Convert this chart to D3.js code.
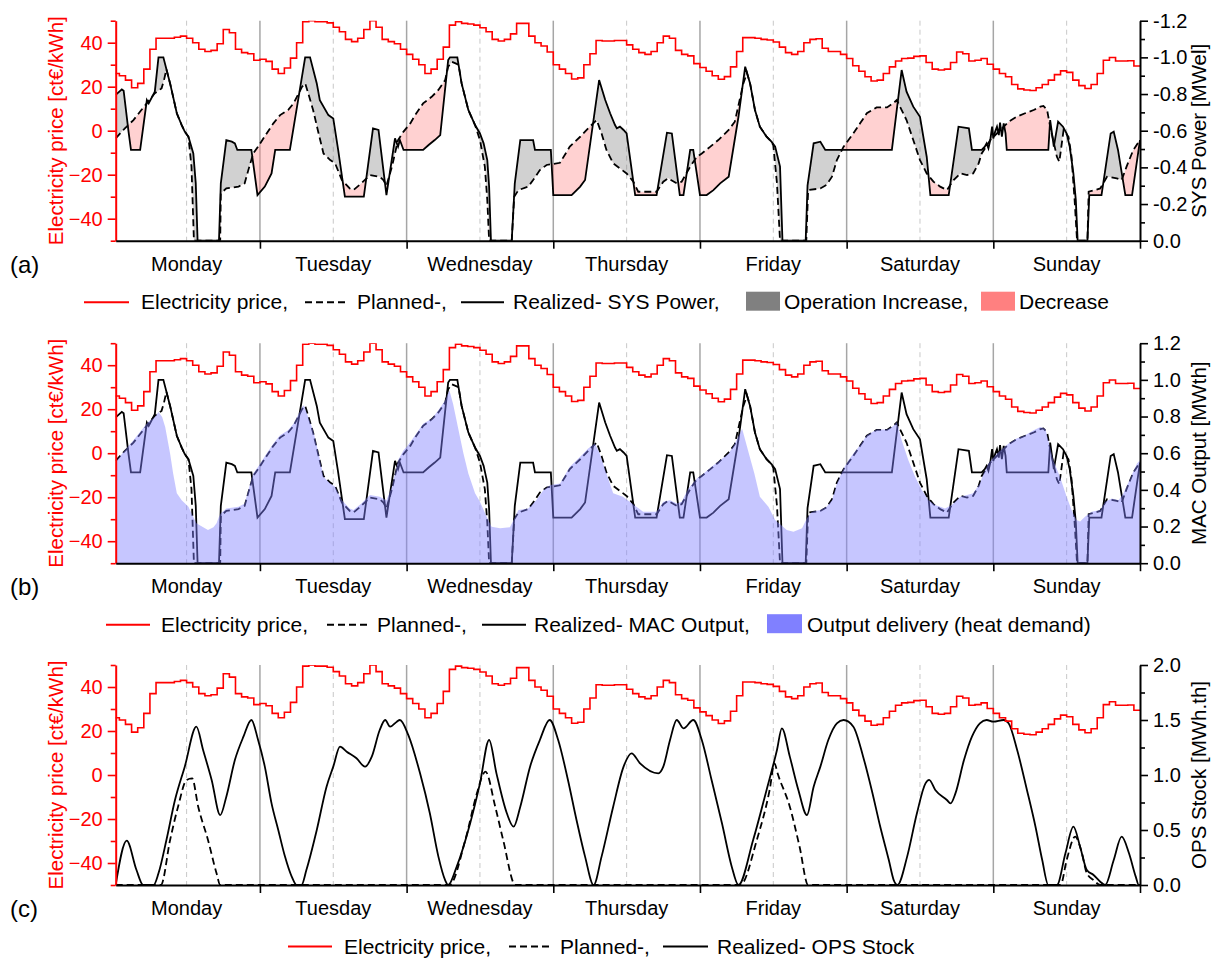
<!DOCTYPE html>
<html><head><meta charset="utf-8">
<script src="https://cdn.jsdelivr.net/npm/d3@7"></script>
<style>body{margin:0;background:#fff} text{font-family:"Liberation Sans",Arial,sans-serif}</style>
</head><body><svg id="chart" width="1221" height="961"></svg>
<script>
// ---------------- DATA ----------------
const dayNames = ["Monday","Tuesday","Wednesday","Thursday","Friday","Saturday","Sunday"];
const dayBoundaries = [24,48,72,96,120,144];
const dayMidpoints = [12,36,60,84,108,132,156];
const priceTicks = [-40,-20,0,20,40];
const priceMinorTicks = [-50,-30,-10,10,30,50];
const powerTicks = [0,0.2,0.4,0.6,0.8,1.0,1.2];
const powerMinorTicks = [0.1,0.3,0.5,0.7,0.9,1.1];
const stockTicks = [0,0.5,1.0,1.5,2.0];
const stockMinorTicks = [0.25,0.75,1.25,1.75];

// hourly electricity price [ct€/kWh], hour 0..167
const price = [26,25,23,19.5,21.5,28,37,42,42,42,42.5,43,42,40,37,36,36.5,39.5,46,44.5,37,35.5,35,32,
32.5,31.5,28,26,28.5,33,40,49.5,50,49.5,49.5,49,47,45,41.5,40.5,42,46,50,47,41.5,40.5,39.5,37,
34.7,32.5,30,26,28,32.5,38,48,49.5,48.8,48.5,48,46.8,45,41.5,40.8,41.5,44,48.8,48.8,43,40,38.5,35.8,
30,28,26,23.5,24,30,35,41,40.8,40.8,41,41,39,37,35.5,34.7,36,40,43,42,36.5,34.7,34,30.5,
28.7,27,25,23.4,24.6,29,36,42.3,42.3,42,41.5,41.2,40.3,38,35.5,34.7,36,40,41.5,41.8,37.5,36,36,34.7,
32.8,29.5,27,24.5,22.6,23,26,29,31.7,32.8,33,33.8,34,31,28,27.6,28,31,35.8,35,31.7,32,32.8,30.2,
28,26,24.5,21,19,18.5,18.3,19.5,21,23,25.5,27.2,26.5,23,20.5,19.2,21,26,32,33.3,31.7,31.7,31.8,29.4];

// realized SYS power magnitude / MAC output [MW] as [hour, value]
const realized = [[0.4,0.795],[1.4,0.825],[1.7,0.818],[2.5,0.595],[2.9,0.495],[4.4,0.495],[5.5,0.767],[5.8,0.749],[6.8,0.813],[7.4,1.0],[8.2,1.0],[9.3,0.858],[10.4,0.695],[11.2,0.631],[11.7,0.595],[12.3,0.567],[13.1,0.476],[13.5,0.313],[13.8,0],[17.3,0],[17.6,0.313],[18.5,0.549],[19.4,0.54],[19.9,0.531],[20.3,0.495],[22.6,0.495],[23.6,0.249],[24.8,0.295],[25.9,0.367],[26.5,0.495],[28.9,0.495],[31.4,1.0],[32.2,1.0],[33.3,0.858],[33.8,0.767],[35.2,0.685],[36.0,0.667],[36.8,0.495],[37.9,0.24],[41.0,0.24],[42.5,0.613],[43.4,0.604],[44.7,0.249],[46.1,0.558],[46.6,0.513],[46.9,0.549],[47.5,0.495],[50.7,0.495],[51.6,0.522],[52.6,0.549],[53.5,0.576],[54.8,0.985],[55.1,1.0],[56.3,1.0],[57.0,0.858],[58.1,0.713],[59.2,0.631],[60.0,0.585],[60.6,0.531],[61.2,0.44],[61.5,0.295],[61.8,0],[65.2,0],[65.7,0.313],[66.6,0.549],[68.7,0.549],[69.0,0.495],[71.6,0.495],[72.0,0.249],[75.0,0.249],[76.4,0.295],[77.2,0.331],[79.5,0.876],[80.5,0.767],[81.3,0.695],[82.1,0.631],[82.4,0.613],[82.9,0.622],[83.5,0.604],[84.0,0.585],[85.4,0.249],[88.9,0.249],[90.6,0.589],[91.4,0.585],[92.7,0.249],[93.3,0.249],[94.4,0.495],[94.9,0.495],[96.0,0.249],[97.1,0.249],[98.2,0.276],[99.3,0.313],[100.7,0.349],[102.3,0.676],[103.4,0.949],[104.2,0.858],[105.0,0.713],[105.8,0.622],[106.9,0.567],[107.7,0.54],[108.3,0.513],[109.1,0.404],[109.5,0],[113.3,0],[113.6,0.3],[114.6,0.531],[115.7,0.54],[116.5,0.495],[127.4,0.495],[129.0,0.931],[129.8,0.813],[130.9,0.731],[132.0,0.676],[133.1,0.458],[133.7,0.249],[136.7,0.249],[138.3,0.622],[140.0,0.613],[140.5,0.495],[142.1,0.495],[142.6,0.513],[142.9,0.531],[143.2,0.504],[143.5,0.549],[143.8,0.622],[144.0,0.558],[144.3,0.595],[144.6,0.622],[144.9,0.576],[145.1,0.644],[145.4,0.567],[145.7,0.64],[146.0,0.585],[146.2,0.495],[153.0,0.495],[153.3,0.658],[153.9,0.513],[154.6,0.649],[155.4,0.622],[156.0,0.585],[156.5,0.513],[157.1,0.367],[157.5,0.222],[157.8,0],[159.4,0],[159.7,0.249],[161.7,0.249],[163.2,0.585],[163.7,0.595],[164.4,0.495],[165.6,0.249],[166.7,0.249],[168.0,0.549]];

// planned SYS power magnitude / MAC output [MW]
const planned = [[0.4,0.558],[1.9,0.613],[3.3,0.658],[4.6,0.713],[5.7,0.758],[6.8,0.804],[7.9,0.831],[8.3,0.876],[8.7,0.935],[9.3,0.858],[10.4,0.695],[11.2,0.631],[11.7,0.595],[12.3,0.567],[12.8,0.404],[13.2,0],[17.5,0],[17.6,0.258],[18.5,0.285],[20.5,0.295],[21.5,0.313],[22.1,0.385],[22.9,0.476],[23.7,0.513],[25.1,0.585],[26.2,0.64],[27.3,0.685],[28.6,0.713],[29.5,0.749],[30.9,0.84],[31.4,0.858],[31.9,0.804],[32.7,0.713],[33.6,0.585],[34.4,0.476],[35.5,0.44],[36.3,0.422],[37.4,0.331],[38.7,0.285],[39.3,0.276],[40.6,0.313],[42.0,0.358],[43.6,0.349],[44.2,0.331],[44.7,0.30],[45.6,0.404],[46.6,0.549],[47.5,0.595],[48.6,0.64],[49.4,0.685],[50.7,0.749],[52.1,0.785],[53.2,0.822],[54.3,0.876],[54.8,0.949],[55.4,0.976],[56.5,0.96],[57.0,0.858],[58.1,0.713],[59.2,0.631],[60.0,0.549],[60.8,0.404],[61.2,0.222],[61.5,0],[65.2,0],[65.6,0.24],[66.3,0.276],[67.9,0.295],[68.7,0.331],[69.8,0.385],[70.9,0.413],[73.1,0.425],[74.7,0.513],[76.4,0.567],[77.7,0.613],[79.1,0.658],[79.9,0.585],[80.7,0.495],[81.8,0.422],[84.0,0.367],[85.1,0.322],[85.9,0.267],[88.9,0.267],[90.0,0.322],[90.8,0.34],[92.2,0.313],[93.0,0.322],[94.4,0.404],[95.5,0.458],[96.3,0.476],[97.7,0.513],[99.0,0.549],[100.7,0.604],[101.7,0.649],[103.1,0.858],[103.7,0.915],[104.2,0.858],[105.0,0.713],[105.8,0.622],[106.9,0.567],[107.7,0.54],[108.0,0.52],[108.6,0.313],[109.1,0],[113.4,0],[113.7,0.276],[115.7,0.285],[116.7,0.304],[117.6,0.349],[118.4,0.44],[119.5,0.513],[120.3,0.549],[121.1,0.585],[122.2,0.64],[123.3,0.695],[124.9,0.727],[126.6,0.727],[127.6,0.749],[128.2,0.767],[129.8,0.658],[130.9,0.549],[132.0,0.44],[133.1,0.367],[134.2,0.322],[135.3,0.295],[136.4,0.276],[137.5,0.331],[138.6,0.367],[139.7,0.358],[140.7,0.367],[141.6,0.422],[142.1,0.476],[143.5,0.549],[144.6,0.585],[145.7,0.622],[146.5,0.649],[147.8,0.676],[149.2,0.695],[150.6,0.713],[151.7,0.731],[152.2,0.735],[152.8,0.713],[153.3,0.622],[153.8,0.549],[154.4,0.458],[154.8,0.431],[155.5,0.604],[156.3,0.567],[156.8,0.458],[157.3,0.222],[157.7,0],[159.4,0],[159.6,0.267],[161.5,0.285],[162.6,0.349],[164.2,0.34],[165.0,0.331],[165.8,0.404],[166.9,0.495],[168.0,0.549]];

// output delivery (heat demand) [MW]
const heatDemand = [[0.4,0.553],[1.9,0.616],[3.3,0.671],[4.6,0.725],[5.7,0.77],[6.8,0.798],[7.4,0.825],[8.0,0.798],[8.5,0.743],[9.3,0.598],[9.8,0.489],[10.4,0.381],[11.2,0.344],[12.3,0.308],[12.8,0.272],[13.6,0.218],[15.0,0.19],[15.5,0.181],[16.4,0.196],[16.9,0.218],[17.3,0.254],[17.6,0.272],[18.5,0.299],[20.5,0.308],[21.5,0.326],[22.1,0.399],[22.9,0.489],[23.7,0.526],[25.1,0.598],[26.2,0.653],[27.3,0.698],[28.6,0.725],[29.5,0.761],[30.9,0.852],[31.2,0.861],[32.7,0.725],[33.6,0.598],[34.4,0.471],[35.5,0.435],[36.3,0.417],[37.4,0.344],[38.7,0.299],[39.3,0.29],[40.6,0.326],[42.0,0.372],[43.6,0.363],[44.7,0.344],[45.6,0.417],[46.6,0.562],[47.5,0.616],[48.0,0.634],[49.4,0.698],[50.7,0.761],[52.1,0.788],[53.2,0.834],[54.3,0.888],[55.0,0.943],[55.6,0.87],[56.5,0.725],[57.3,0.598],[58.1,0.489],[59.2,0.381],[60.0,0.335],[61.1,0.254],[61.9,0.199],[63.3,0.19],[64.9,0.196],[65.5,0.236],[66.3,0.29],[67.9,0.299],[69.2,0.344],[70.4,0.399],[71.5,0.426],[73.1,0.435],[74.7,0.526],[76.4,0.58],[77.7,0.625],[78.8,0.653],[79.6,0.598],[80.5,0.508],[81.8,0.381],[83.4,0.363],[85.6,0.308],[86.7,0.281],[88.9,0.281],[90.0,0.335],[91.1,0.344],[92.2,0.326],[93.0,0.335],[94.1,0.408],[95.5,0.462],[96.6,0.489],[97.9,0.526],[99.3,0.562],[100.7,0.598],[101.7,0.653],[102.9,0.734],[104.0,0.598],[104.9,0.489],[105.8,0.363],[107.2,0.308],[108.3,0.236],[110.2,0.181],[111.3,0.172],[112.7,0.19],[113.5,0.245],[114.3,0.281],[115.7,0.29],[116.7,0.308],[117.6,0.344],[118.4,0.435],[119.5,0.517],[120.3,0.562],[121.1,0.598],[122.2,0.643],[123.3,0.698],[124.9,0.729],[126.6,0.729],[127.6,0.747],[128.2,0.77],[129.0,0.671],[130.1,0.562],[131.2,0.471],[132.3,0.399],[133.4,0.344],[134.5,0.317],[136.1,0.299],[137.2,0.317],[138.6,0.363],[139.7,0.372],[140.7,0.381],[141.8,0.435],[142.4,0.489],[143.2,0.544],[144.6,0.598],[146.5,0.653],[147.8,0.68],[149.2,0.698],[150.6,0.725],[151.7,0.743],[152.5,0.734],[153.0,0.671],[153.8,0.562],[154.9,0.471],[156.0,0.363],[156.8,0.29],[157.6,0.236],[158.2,0.227],[159.0,0.254],[160.1,0.281],[161.5,0.29],[162.3,0.335],[163.4,0.353],[164.5,0.344],[165.3,0.381],[166.4,0.462],[167.5,0.544],[168.0,0.562]];

// OPS stock [MWh.th]
const stockRealized = [[0.4,0],[2.2,0.403],[3.8,0.136],[4.9,0],[6.6,0],[7.4,0.106],[8.7,0.409],[10.1,0.773],[11.7,1.076],[13.6,1.439],[14.7,1.227],[16.1,0.955],[17.5,0.636],[18.5,0.803],[19.9,1.136],[21.3,1.348],[22.6,1.5],[23.7,1.318],[24.8,1.076],[25.9,0.742],[27.0,0.5],[28.1,0.258],[29.2,0.076],[30.0,0],[30.8,0],[31.6,0.136],[33.3,0.5],[34.9,0.894],[36.0,1.076],[37.1,1.258],[38.2,1.212],[39.8,1.152],[41.2,1.076],[42.3,1.167],[43.6,1.409],[44.5,1.5],[45.3,1.439],[46.4,1.485],[46.9,1.5],[48.3,1.36],[50.2,1.015],[51.8,0.652],[53.2,0.258],[54.3,0.045],[54.8,0],[56.2,0.167],[58.4,0.561],[60.0,0.924],[61.5,1.318],[62.7,1.015],[64.4,0.652],[65.5,0.53],[66.6,0.712],[68.2,1.076],[69.8,1.318],[71.4,1.5],[72.8,1.318],[74.4,0.955],[75.8,0.591],[77.2,0.258],[78.6,0],[79.9,0.258],[81.8,0.712],[83.5,1.076],[84.8,1.197],[86.2,1.106],[89.2,1.015],[90.0,1.076],[91.1,1.318],[92.2,1.5],[93.3,1.424],[94.9,1.5],[96.3,1.318],[97.9,0.955],[99.6,0.561],[101.2,0.167],[102.3,0],[104.7,0.409],[106.9,0.864],[108.6,1.227],[109.4,1.424],[110.7,1.167],[112.1,0.864],[113.5,0.636],[114.6,0.894],[115.7,1.076],[117.0,1.318],[118.4,1.47],[119.5,1.5],[121.1,1.439],[122.7,1.167],[124.1,0.864],[125.5,0.53],[126.9,0.227],[127.7,0.045],[128.3,0],[129.9,0.258],[131.5,0.652],[132.9,0.924],[133.5,0.955],[134.5,0.864],[136.4,0.773],[137.0,0.742],[137.8,0.833],[139.2,1.136],[140.5,1.348],[141.8,1.47],[142.9,1.5],[144.0,1.485],[145.7,1.5],[146.5,1.47],[147.9,1.227],[149.5,0.864],[150.9,0.53],[152.0,0.227],[153.0,0],[154.4,0],[155.8,0.288],[157.1,0.53],[158.2,0.348],[159.3,0.136],[160.4,0.091],[161.5,0.03],[162.3,0],[163.7,0.227],[165.0,0.439],[166.2,0.288],[167.3,0.076],[167.8,0],[168,0]];
const stockPlanned = [[0.4,0],[7.8,0],[9.3,0.409],[10.6,0.712],[12.0,0.955],[12.9,0.97],[13.9,0.712],[15.5,0.409],[16.9,0.106],[17.5,0],[55.0,0],[57.6,0.409],[59.5,0.833],[60.6,1.015],[60.9,1.03],[62.5,0.712],[63.8,0.409],[65.8,0],[102.6,0],[105.3,0.409],[107.4,0.864],[108.2,1.106],[108.7,1.015],[110.7,0.712],[112.3,0.348],[113.7,0],[155.0,0],[156.0,0.227],[157.4,0.439],[158.5,0.288],[159.3,0.106],[160.4,0.045],[161.5,0],[168,0]];

// ---------------- DRAWING ----------------
const svg = d3.select("#chart");
const RED = "#ff0000";
const x = d3.scaleLinear().domain([0.4, 168]).range([115.7, 1140]);
const priceSteps = price.map((v, i) => [i, v]).concat([[168, price[price.length - 1]]]);

const panels = [
  {id:"a", top:20.7, letter:"(a)", rTitle:"SYS Power [MWel]", rDomain:[0,1.2], rTicks:powerTicks, rMinor:powerMinorTicks,
   fmt: d => d === 0 ? "0.0" : "-" + d.toFixed(1),
   legend:[{t:"line",c:RED,x0:84,x1:129,tx:141,txt:"Electricity price,"},
           {t:"dash",c:"#000",x0:305,x1:346,tx:357,txt:"Planned-,"},
           {t:"line",c:"#000",x0:461,x1:504,tx:513,txt:"Realized- SYS Power,"},
           {t:"box",c:"#808080",x0:746,x1:780,tx:784,txt:"Operation Increase,"},
           {t:"box",c:"#ff8080",x0:981,x1:1015,tx:1019,txt:"Decrease"}]},
  {id:"b", top:343.2, letter:"(b)", rTitle:"MAC Output [MWth]", rDomain:[0,1.2], rTicks:powerTicks, rMinor:powerMinorTicks,
   fmt: d => d.toFixed(1),
   legend:[{t:"line",c:RED,x0:106,x1:150,tx:161,txt:"Electricity price,"},
           {t:"dash",c:"#000",x0:327,x1:368,tx:377,txt:"Planned-,"},
           {t:"line",c:"#000",x0:482,x1:526,tx:534,txt:"Realized- MAC Output,"},
           {t:"box",c:"#8080ff",x0:767,x1:802,tx:807,txt:"Output delivery (heat demand)"}]},
  {id:"c", top:665, letter:"(c)", rTitle:"OPS Stock [MWh.th]", rDomain:[0,2], rTicks:stockTicks, rMinor:stockMinorTicks,
   fmt: d => d.toFixed(1),
   legend:[{t:"line",c:RED,x0:288,x1:332,tx:344,txt:"Electricity price,"},
           {t:"dash",c:"#000",x0:509,x1:550,tx:560,txt:"Planned-,"},
           {t:"line",c:"#000",x0:663,x1:708,tx:717,txt:"Realized- OPS Stock"}]}
];
const PH = 220;

panels.forEach(p => {
  const bottom = p.top + PH;
  const g = svg.append("g");
  const yL = d3.scaleLinear().domain([-50, 50]).range([bottom, p.top]);
  const yR = d3.scaleLinear().domain(p.rDomain).range([bottom, p.top]);

  const defs = g.append("defs");
  defs.append("clipPath").attr("id", "plot-" + p.id).append("rect")
    .attr("x", x.range()[0]).attr("y", p.top).attr("width", x.range()[1] - x.range()[0]).attr("height", PH);

  // grid lines
  g.selectAll(".noon").data(dayMidpoints).join("line")
    .attr("x1", d => x(d)).attr("x2", d => x(d)).attr("y1", p.top).attr("y2", bottom)
    .attr("stroke", "#c8c8c8").attr("stroke-width", 1).attr("stroke-dasharray", "5,4");
  g.selectAll(".day").data(dayBoundaries).join("line")
    .attr("x1", d => x(d)).attr("x2", d => x(d)).attr("y1", p.top).attr("y2", bottom)
    .attr("stroke", "#a6a6a6").attr("stroke-width", 1.5);

  const plot = g.append("g").attr("clip-path", `url(#plot-${p.id})`);
  const lineR = d3.line().x(d => x(d[0])).y(d => yR(d[1]));

  if (p.id === "a") {
    const above = planned.concat([[168, 1.5], [0.4, 1.5]]);
    const below = planned.concat([[168, -0.3], [0.4, -0.3]]);
    defs.append("clipPath").attr("id", "above-a").append("path").attr("d", lineR(above) + "Z");
    defs.append("clipPath").attr("id", "below-a").append("path").attr("d", lineR(below) + "Z");
    const between = lineR(realized.concat(planned.slice().reverse())) + "Z";
    plot.append("g").attr("clip-path", "url(#above-a)").append("path")
      .attr("d", between).attr("fill", "#808080").attr("fill-opacity", 0.36);
    plot.append("g").attr("clip-path", "url(#below-a)").append("path")
      .attr("d", between).attr("fill", "#ff8080").attr("fill-opacity", 0.36);
  }

  if (p.id === "c") {
    const lineC = d3.line().x(d => x(d[0])).y(d => yR(d[1])).curve(d3.curveMonotoneX);
    plot.append("path").attr("d", lineC(stockPlanned)).attr("fill", "none")
      .attr("stroke", "#000").attr("stroke-width", 1.8).attr("stroke-dasharray", "7,4");
    plot.append("path").attr("d", lineC(stockRealized)).attr("fill", "none")
      .attr("stroke", "#000").attr("stroke-width", 1.8);
  } else {
    plot.append("path").attr("d", lineR(planned)).attr("fill", "none")
      .attr("stroke", "#000").attr("stroke-width", 1.8).attr("stroke-dasharray", "7,4");
    plot.append("path").attr("d", lineR(realized)).attr("fill", "none")
      .attr("stroke", "#000").attr("stroke-width", 1.8);
  }

  // price
  const priceLine = d3.line().x(d => x(d[0])).y(d => yL(d[1])).curve(d3.curveStepAfter);
  plot.append("path").attr("d", priceLine(priceSteps)).attr("fill", "none")
    .attr("stroke", RED).attr("stroke-width", 1.6);

  if (p.id === "b") {
    const area = d3.area().x(d => x(d[0])).y0(yR(0)).y1(d => yR(d[1]));
    plot.append("path").attr("d", area(heatDemand)).attr("fill", "#8080ff").attr("fill-opacity", 0.45);
  }

  // axes
  const styleAxis = (sel, color, fs) => {
    sel.selectAll("path.domain").attr("stroke", color).attr("stroke-width", 2);
    sel.selectAll(".tick line").attr("stroke", color).attr("stroke-width", 1.6);
    sel.selectAll(".tick text").attr("fill", color).attr("font-size", fs)
      .attr("font-family", '"Liberation Sans", Arial, sans-serif');
  };
  const leftMinor = g.append("g").attr("transform", `translate(${x.range()[0]},0)`)
    .call(d3.axisLeft(yL).tickValues(priceMinorTicks).tickSize(5).tickFormat(""));
  leftMinor.select(".domain").remove(); styleAxis(leftMinor, RED, 20);
  const left = g.append("g").attr("transform", `translate(${x.range()[0]},0)`)
    .call(d3.axisLeft(yL).tickValues(priceTicks).tickSize(8).tickSizeOuter(0).tickPadding(5));
  styleAxis(left, RED, 20);

  const rightMinor = g.append("g").attr("transform", `translate(${x.range()[1]},0)`)
    .call(d3.axisRight(yR).tickValues(p.rMinor).tickSize(5).tickFormat(""));
  rightMinor.select(".domain").remove(); styleAxis(rightMinor, "#000", 20);
  const right = g.append("g").attr("transform", `translate(${x.range()[1]},0)`)
    .call(d3.axisRight(yR).tickValues(p.rTicks).tickSize(8).tickSizeOuter(0).tickPadding(5).tickFormat(p.fmt));
  styleAxis(right, "#000", 20);

  const bottomAx = g.append("g").attr("transform", `translate(0,${bottom})`)
    .call(d3.axisBottom(x).tickValues(dayBoundaries.concat([168])).tickSize(8).tickSizeOuter(0).tickFormat(""));
  styleAxis(bottomAx, "#000", 20);

  g.selectAll(".dayLabel").data(dayNames).join("text")
    .attr("x", (d, i) => x(dayMidpoints[i])).attr("y", bottom + 30)
    .attr("text-anchor", "middle").attr("font-size", 20).attr("fill", "#000").text(d => d);

  // titles
  g.append("text").attr("transform", `translate(63,${p.top + PH / 2}) rotate(-90)`)
    .attr("text-anchor", "middle").attr("font-size", 20.5).attr("fill", RED).text("Electricity price [ct€/kWh]");
  g.append("text").attr("transform", `translate(1206,${p.top + PH / 2}) rotate(-90)`)
    .attr("text-anchor", "middle").attr("font-size", 20.5).attr("fill", "#000").text(p.rTitle);
  g.append("text").attr("x", 10).attr("y", bottom + 32).attr("font-size", 24).attr("fill", "#000").text(p.letter);

  // legend
  const base = bottom + 68.5;
  const lg = g.append("g");
  p.legend.forEach(it => {
    if (it.t === "box") {
      lg.append("rect").attr("x", it.x0).attr("y", base - 17.5).attr("width", it.x1 - it.x0).attr("height", 19)
        .attr("fill", it.c);
    } else {
      lg.append("line").attr("x1", it.x0).attr("x2", it.x1).attr("y1", base - 7).attr("y2", base - 7)
        .attr("stroke", it.c).attr("stroke-width", 2)
        .attr("stroke-dasharray", it.t === "dash" ? "7,4" : null);
    }
    lg.append("text").attr("x", it.tx).attr("y", base).attr("font-size", 21).attr("fill", "#000").text(it.txt);
  });
});
</script></body></html>
